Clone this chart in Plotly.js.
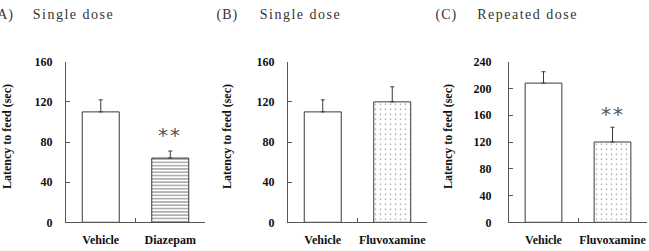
<!DOCTYPE html>
<html>
<head>
<meta charset="utf-8">
<script src="https://cdn.plot.ly/plotly-3.0.1.min.js"></script>
<style>
  html, body { margin: 0; padding: 0; background: #fff; }
  #chart { width: 649px; height: 251px; }
</style>
</head>
<body>
<div id="chart"></div>
<script>
// Latency to feed (mean + SEM) for each treatment group
const groupsA = ['Vehicle', 'Diazepam'];
const meansA = [110, 64];
const semA = [12, 7];

const groupsB = ['Vehicle', 'Fluvoxamine'];
const meansB = [110, 120];
const semB = [12, 15];

const groupsC = ['Vehicle', 'Fluvoxamine'];
const meansC = [208, 120];
const semC = [17, 22];

const yTicksAB = [0, 40, 80, 120, 160];
const yTicksC = [0, 40, 80, 120, 160, 200, 240];

const panelLabels = ['(A)', '(B)', '(C)'];
const panelTitles = ['Single dose', 'Single dose', 'Repeated dose'];
const yTitle = 'Latency to feed (sec)';
const sigMark = '**';

const SERIF = 'Liberation Serif, Times New Roman, serif';
const INK = '#3a3a3a';
const W = 649, H = 251;
const px = v => v / W;
const py = v => 1 - v / H;

function barTrace(groups, means, sem, shapes, xa, ya) {
  return {
    type: 'bar',
    x: groups,
    y: means,
    xaxis: xa,
    yaxis: ya,
    marker: {
      color: '#ffffff',
      line: { color: INK, width: 1 },
      pattern: {
        shape: shapes,
        fgcolor: shapes.map(s => s === '-' ? '#111' : '#333'),
        bgcolor: '#ffffff',
        size: shapes.map(s => s === '-' ? 3.3 : 5),
        solidity: shapes.map(s => s === '-' ? 0.34 : 0.08),
        fillmode: 'overlay'
      }
    },
    error_y: {
      type: 'data',
      symmetric: false,
      array: sem,
      arrayminus: sem.map(() => 0),
      color: INK,
      thickness: 1,
      width: 2
    },
    hoverinfo: 'skip',
    showlegend: false
  };
}

const data = [
  barTrace(groupsA, meansA, semA, ['', '-'], 'x', 'y'),
  barTrace(groupsB, meansB, semB, ['', '.'], 'x2', 'y2'),
  barTrace(groupsC, meansC, semC, ['', '.'], 'x3', 'y3')
];

const yDomain = [py(222.3), py(61.7)];

function xAxis(d0, d1, anchor) {
  return {
    domain: [px(d0), px(d1)],
    anchor: anchor,
    type: 'category',
    range: [-0.5, 1.5],
    showline: true,
    linecolor: '#555',
    linewidth: 1,
    ticks: 'inside',
    tickson: 'boundaries',
    ticklen: 4,
    tickcolor: '#555',
    tickwidth: 1,
    tickangle: 0,
    tickfont: { family: SERIF, size: 12, color: '#111', weight: 'bold' },
    ticklabelstandoff: 6,
    showgrid: false,
    zeroline: false,
    fixedrange: true
  };
}

function yAxis(anchor, maxV, tickvals, standoff) {
  return {
    domain: yDomain,
    anchor: anchor,
    range: [0, maxV],
    tickmode: 'array',
    tickvals: tickvals,
    showline: true,
    linecolor: '#555',
    linewidth: 1,
    ticks: 'inside',
    ticklen: 4,
    tickcolor: '#555',
    tickwidth: 1,
    tickfont: { family: SERIF, size: 12, color: '#111', weight: 'bold' },
    ticklabelstandoff: standoff,
    showgrid: false,
    zeroline: false,
    fixedrange: true
  };
}

const annotations = [];
const labelCenters = [3, 227, 446.5];
const titleCenters = [73, 300, 527];
const yTitleCenters = [7, 227, 448];

for (let i = 0; i < 3; i++) {
  annotations.push({
    xref: 'paper', yref: 'paper', x: px(labelCenters[i]), y: py(15),
    xanchor: 'center', yanchor: 'middle', showarrow: false,
    text: panelLabels[i],
    font: { family: SERIF, size: 14, color: '#333' }
  });
  annotations.push({
    xref: 'paper', yref: 'paper', x: px(titleCenters[i]), y: py(15),
    xanchor: 'center', yanchor: 'middle', showarrow: false,
    text: panelTitles[i],
    font: { family: SERIF, size: 14, color: '#333' }
  });
  annotations.push({
    xref: 'paper', yref: 'paper', x: px(yTitleCenters[i]), y: py(137),
    xanchor: 'center', yanchor: 'middle', showarrow: false,
    textangle: -90,
    text: yTitle,
    font: { family: SERIF, size: 12, color: '#111', weight: 'bold' }
  });
}

// significance markers above the treated groups
annotations.push({
  xref: 'x', yref: 'y', x: groupsA[1], y: meansA[1] + semA[1] + 16,
  xanchor: 'center', yanchor: 'middle', showarrow: false,
  text: sigMark, font: { family: 'DejaVu Sans', size: 20, color: '#555' }
});
annotations.push({
  xref: 'x3', yref: 'y3', x: groupsC[1], y: meansC[1] + semC[1] + 20,
  xanchor: 'center', yanchor: 'middle', showarrow: false,
  text: sigMark, font: { family: 'DejaVu Sans', size: 20, color: '#555' }
});

const layout = {
  width: W,
  height: H,
  margin: { l: 0, r: 0, t: 0, b: 0 },
  paper_bgcolor: '#ffffff',
  plot_bgcolor: 'rgba(0,0,0,0)',
  bargap: 0.468,
  showlegend: false,
  xaxis: xAxis(66, 205, 'y'),
  yaxis: yAxis('x', 160, yTicksAB, 10),
  xaxis2: xAxis(288, 427, 'y2'),
  yaxis2: yAxis('x2', 160, yTicksAB, 10),
  xaxis3: xAxis(509, 647, 'y3'),
  yaxis3: yAxis('x3', 240, yTicksC, 14),
  annotations: annotations
};

Plotly.newPlot('chart', data, layout, { staticPlot: true, displayModeBar: false }).then(() => {
  // widen the tracking of the panel headings and the significance stars
  document.querySelectorAll('#chart .annotation-text').forEach(t => {
    const s = t.textContent;
    if (panelTitles.includes(s)) t.style.letterSpacing = '1.5px';
    if (panelLabels.includes(s)) t.style.letterSpacing = '1px';
    if (s === sigMark) t.style.letterSpacing = '2px';
  });
});
</script>
</body>
</html>
